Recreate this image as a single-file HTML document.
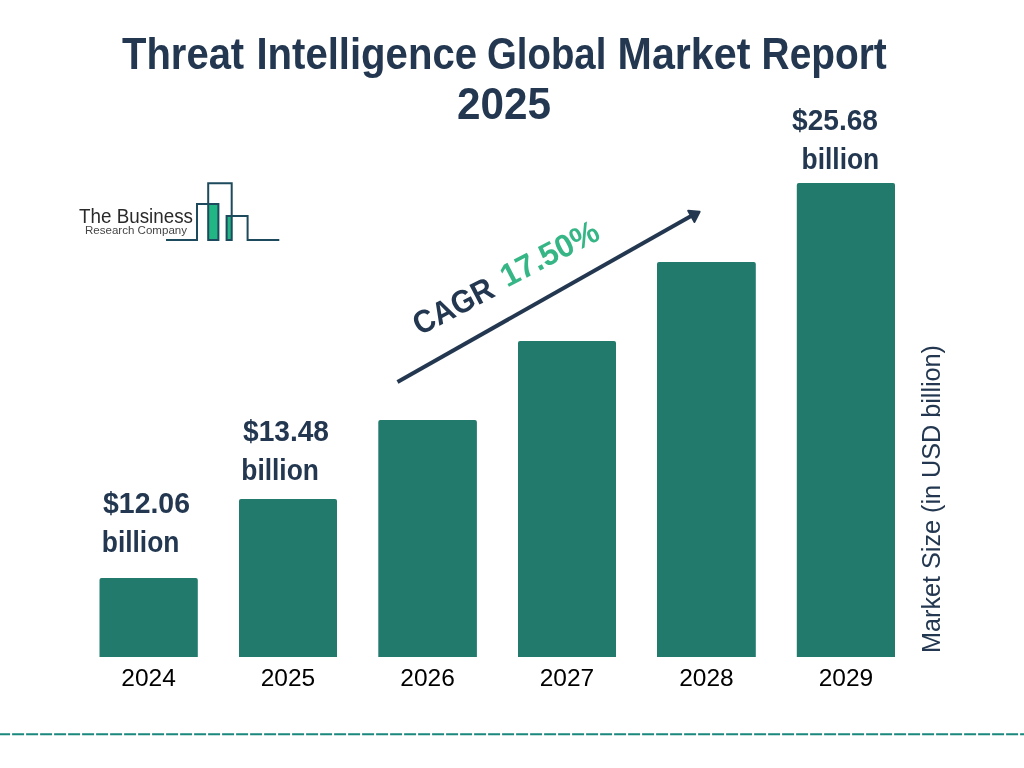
<!DOCTYPE html>
<html>
<head>
<meta charset="utf-8">
<style>
html,body{margin:0;padding:0;background:#ffffff;}
body{width:1024px;height:768px;overflow:hidden;position:relative;}
svg{position:absolute;left:0;top:0;display:block;will-change:transform;}
text{font-family:"Liberation Sans", sans-serif;}
</style>
</head>
<body>
<svg width="1024" height="768" viewBox="0 0 1024 768">
  <rect x="0" y="0" width="1024" height="768" fill="#ffffff"/>

  <!-- Title -->
  <g font-size="44" font-weight="bold" fill="#233850">
    <text x="122" y="69" textLength="122.2" lengthAdjust="spacingAndGlyphs">Threat</text>
    <text x="256.4" y="69" textLength="220.6" lengthAdjust="spacingAndGlyphs">Intelligence</text>
    <text x="487" y="69" textLength="119.3" lengthAdjust="spacingAndGlyphs">Global</text>
    <text x="617.6" y="69" textLength="132.8" lengthAdjust="spacingAndGlyphs">Market</text>
    <text x="761.6" y="69" textLength="125.2" lengthAdjust="spacingAndGlyphs">Report</text>
  </g>
  <text x="457" y="119" font-size="44" font-weight="bold" fill="#233850" textLength="94" lengthAdjust="spacingAndGlyphs">2025</text>

  <!-- Logo -->
  <g>
    <text x="79" y="223.3" font-size="20" fill="#2a2a2a" textLength="114" lengthAdjust="spacingAndGlyphs">The Business</text>
    <text x="85" y="234" font-size="10" fill="#454545" textLength="102" lengthAdjust="spacingAndGlyphs">Research Company</text>
    <rect x="208.2" y="204" width="10.2" height="36" fill="#22b685"/>
    <rect x="226.6" y="216" width="5.5" height="24" fill="#22b685"/>
    <path d="M166 240 H197 V204 H218.4 V240 H208.2 V183.2 H231.7 V240 H226.6 V216 H247.6 V240 H279.3" fill="none" stroke="#1d4a5c" stroke-width="2"/>
  </g>

  <!-- Bars -->
  <g fill="#217a6b">
    <path d="M99.5 657 V580 Q99.5 578 101.5 578 H195.8 Q197.8 578 197.8 580 V657 Z"/>
    <path d="M239 657 V501 Q239 499 241 499 H335 Q337 499 337 501 V657 Z"/>
    <path d="M378.3 657 V422 Q378.3 420 380.3 420 H474.9 Q476.9 420 476.9 422 V657 Z"/>
    <path d="M518 657 V343 Q518 341 520 341 H614 Q616 341 616 343 V657 Z"/>
    <path d="M657 657 V264 Q657 262 659 262 H753.8 Q755.8 262 755.8 264 V657 Z"/>
    <path d="M796.8 657 V185 Q796.8 183 798.8 183 H893 Q895 183 895 185 V657 Z"/>
  </g>

  <!-- Year labels -->
  <g font-size="24.5" fill="#000000" text-anchor="middle">
    <text x="148.6" y="686">2024</text>
    <text x="288" y="686">2025</text>
    <text x="427.6" y="686">2026</text>
    <text x="567" y="686">2027</text>
    <text x="706.4" y="686">2028</text>
    <text x="846" y="686">2029</text>
  </g>

  <!-- Data labels -->
  <g font-size="29" font-weight="bold" fill="#233850">
    <text x="103" y="513" textLength="87" lengthAdjust="spacingAndGlyphs">$12.06</text>
    <text x="101.8" y="552" textLength="77.6" lengthAdjust="spacingAndGlyphs">billion</text>
    <text x="243" y="441" textLength="86" lengthAdjust="spacingAndGlyphs">$13.48</text>
    <text x="241.3" y="480" textLength="77.6" lengthAdjust="spacingAndGlyphs">billion</text>
    <text x="792" y="130" textLength="86" lengthAdjust="spacingAndGlyphs">$25.68</text>
    <text x="801.6" y="169" textLength="77.6" lengthAdjust="spacingAndGlyphs">billion</text>
  </g>

  <!-- CAGR arrow -->
  <line x1="397.5" y1="382" x2="692" y2="215.5" stroke="#233850" stroke-width="4"/>
  <path d="M699.6 211.7 L688.2 210.7 L694.5 221.9 Z" fill="#233850" stroke="#233850" stroke-width="2" stroke-linejoin="round"/>

  <!-- CAGR text -->
  <text transform="translate(419.8 335.8) rotate(-27.5)" x="0" y="0" font-size="32" font-weight="bold" fill="#233850" textLength="86.7" lengthAdjust="spacingAndGlyphs">CAGR</text>
  <text transform="translate(507.24 287.75) rotate(-27.5)" x="0" y="0" font-size="32" font-weight="bold" fill="#36b686" textLength="106.7" lengthAdjust="spacingAndGlyphs">17.50%</text>

  <!-- Y axis label -->
  <text transform="translate(940 653) rotate(-90)" x="0" y="0" font-size="25" fill="#233850" textLength="308" lengthAdjust="spacingAndGlyphs">Market Size (in USD billion)</text>

  <!-- Dashed line -->
  <line x1="-1.9" y1="734.2" x2="1024" y2="734.2" stroke="#1a887d" stroke-width="2" stroke-dasharray="12 2"/>
</svg>
</body>
</html>
